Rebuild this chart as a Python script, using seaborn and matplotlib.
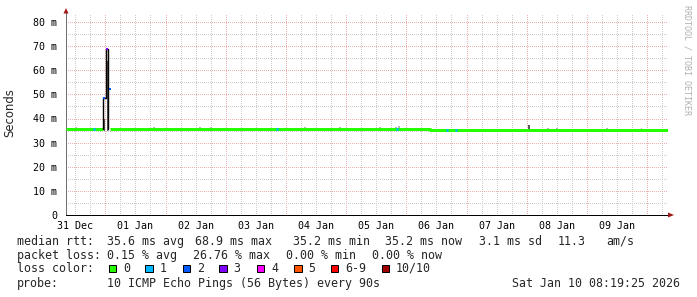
import matplotlib
matplotlib.use("Agg")
import matplotlib.pyplot as plt
import matplotlib.dates as mdates
from matplotlib.ticker import MultipleLocator, FuncFormatter, NullFormatter
from matplotlib.patches import Rectangle, Polygon
import seaborn as sns
import pandas as pd

# ---------------- data ----------------
t_start = "2025-12-31 08:19:25"
t_end = "2026-01-10 08:19:25"

# median rtt (ms), step segments of loss 0 (green)
med_a_time = ["2025-12-31 08:19", "2025-12-31 23:04"]
med_a_ms = [35.7, 35.7]
med_b_time = ["2026-01-01 01:50", "2026-01-06 09:30", "2026-01-10 08:19"]
med_b_ms = [35.7, 35.2, 35.2]

# short spots on median line with loss 1
loss1_time = ["2025-12-31 19:29", "2026-01-03 20:25", "2026-01-05 20:17",
              "2026-01-06 16:13", "2026-01-06 19:49"]
loss1_ms = [35.7, 35.7, 35.7, 35.2, 35.2]

# spike: median step (black) and loss-coloured medians
spike_step_time = ["2025-12-31 23:04", "2025-12-31 23:04", "2026-01-01 00:28", "2026-01-01 01:07"]
spike_step_ms = [35.7, 48.7, 68.9, 35.7]
spike_med_time = ["2025-12-31 23:40", "2026-01-01 00:52", "2026-01-01 01:40"]
spike_med_ms = [48.7, 68.9, 52.2]
spike_med_loss = [2, 3, 2]

# smoke (ping spread), top values in ms
smoke_time = ["2025-12-31 23:40", "2026-01-01 00:45", "2026-01-01 01:20",
              "2025-12-31 12:40", "2026-01-01 19:24", "2026-01-02 13:44", "2026-01-02 18:07",
              "2026-01-04 07:37", "2026-01-04 21:32", "2026-01-05 13:31", "2026-01-05 19:55",
              "2026-01-05 21:07", "2026-01-06 09:01", "2026-01-08 00:55", "2026-01-08 08:31",
              "2026-01-08 12:04", "2026-01-09 08:01", "2026-01-09 21:55"]
smoke_hi = [40.0, 64.0, 55.3,
            36.5, 36.5, 36.6, 36.5,
            36.6, 36.5, 36.6, 36.6,
            37.0, 36.2, 37.3, 36.1,
            36.1, 36.1, 36.1]
smoke_dark = [True, True, False,
              False, False, False, False,
              False, False, False, False,
              False, False, True, False,
              False, False, False]

loss_labels = ["0", "1", "2", "3", "4", "5", "6-9", "10/10"]
loss_colors = ["#26ff00", "#00b8ff", "#0059ff", "#7e00ff", "#ff00ff", "#ff5500", "#ff0000", "#a10000"]

y_ticks = [0, 10, 20, 30, 40, 50, 60, 70, 80]
y_labels = ["0", "10 m", "20 m", "30 m", "40 m", "50 m", "60 m", "70 m", "80 m"]

legend_rows = [
    [("median rtt:", 16.7), ("35.6 ms avg", 106.7), ("68.9 ms max", 195), ("35.2 ms min", 292.7),
     ("35.2 ms now", 385), ("3.1 ms sd", 479), ("11.3", 558), ("am/s", 606.7)],
    [("packet loss:", 16.7), ("0.15 % avg", 106.7), ("26.76 % max", 192.7),
     ("0.00 % min", 286), ("0.00 % now", 372)],
]
probe_text = "10 ICMP Echo Pings (56 Bytes) every 90s"
date_text = "Sat Jan 10 08:19:25 2026"

# ---------------- figure ----------------
W, H, DPI = 697, 297, 100
sns.set_style("white")
plt.rcParams["font.family"] = ["DejaVu Sans Mono"]
fig = plt.figure(figsize=(W / DPI, H / DPI), dpi=DPI)
fig.patch.set_facecolor("white")

L, R, B, T = 66, 668, 215, 13
ax = fig.add_axes([L / W, 1 - B / H, (R - L) / W, (B - T) / H])
ax.set_facecolor("white")

d = lambda s: mdates.date2num(pd.to_datetime(s))
dl = lambda lst: [d(s) for s in lst]
PX = 10.0 / (R - L)  # days per pixel
lw3 = 3 * 72 / DPI
lw1 = 72 / DPI

ax.set_xlim(d(t_start), d(t_end))
ax.set_ylim(0, (B - T) / (193 / 80))
ax.xaxis_date()

# grid
major_c = "#efb0b0"
minor_c = "#cccccc"
ax.xaxis.set_major_locator(mdates.DayLocator())
ax.xaxis.set_minor_locator(mdates.HourLocator(byhour=[6, 12, 18]))
ax.xaxis.set_major_formatter(NullFormatter())
ax.xaxis.set_minor_formatter(FuncFormatter(
    lambda v, p: mdates.num2date(v).strftime("%d %b") if mdates.num2date(v).hour == 12 else ""))
ax.yaxis.set_major_locator(MultipleLocator(10))
ax.yaxis.set_minor_locator(MultipleLocator(5))
ax.set_yticks(y_ticks)
ax.set_yticklabels(y_labels)
ax.grid(which="major", color=major_c, linestyle=(0, (1, 2)), linewidth=lw1, antialiased=False)
ax.grid(which="minor", color=minor_c, linestyle=(0, (1, 2)), linewidth=lw1, antialiased=False)
ax.set_axisbelow(True)

ax.tick_params(axis="x", which="major", length=3, direction="inout", color="#000000", width=lw1)
ax.tick_params(axis="x", which="minor", length=0, pad=4, labelsize=7.2, labelcolor="#000000")
ax.tick_params(axis="y", which="major", length=3, direction="inout", color="#555555",
               width=lw1, pad=5, labelsize=7.2, labelcolor="#000000")
ax.tick_params(axis="y", which="minor", length=2, direction="in", color="#999999", width=lw1)

for s in ["top", "right"]:
    ax.spines[s].set_visible(False)
ax.spines["left"].set_color("#707070")
ax.spines["left"].set_linewidth(lw1)
ax.spines["bottom"].set_color("#000000")
ax.spines["bottom"].set_linewidth(lw1)

# smoke
for t, hi, dark in zip(smoke_time, smoke_hi, smoke_dark):
    c = "#5a5a5a" if dark else "#b4b4b4"
    ax.bar(d(t), hi - 34.8, bottom=34.8, width=1.2 * PX, color=c, linewidth=0, zorder=2)

# median line (loss 0)
df_a = pd.DataFrame({"t": dl(med_a_time), "ms": med_a_ms})
df_b = pd.DataFrame({"t": dl(med_b_time), "ms": med_b_ms})
sns.lineplot(data=df_a, x="t", y="ms", ax=ax, color=loss_colors[0], linewidth=lw3,
             drawstyle="steps-post", solid_capstyle="butt", zorder=4)
sns.lineplot(data=df_b, x="t", y="ms", ax=ax, color=loss_colors[0], linewidth=lw3,
             drawstyle="steps-post", solid_capstyle="butt", zorder=4)

# loss-1 spots
for t, v in zip(loss1_time, loss1_ms):
    ax.hlines(v, d(t) - 0.8 * PX, d(t) + 0.8 * PX, color=loss_colors[1], linewidth=lw3, zorder=5)

# spike
ax.step(dl(spike_step_time), spike_step_ms, where="post", color="#000000", linewidth=lw1 * 1.4, zorder=5)
for t, v, lo in zip(spike_med_time, spike_med_ms, spike_med_loss):
    ax.hlines(v, d(t) - 1.0 * PX, d(t) + 1.0 * PX, color=loss_colors[lo], linewidth=2 * 72 / DPI, zorder=6)

ax.set_xlabel("")
ax.set_ylabel("")

# arrows
def fx(x): return x / W
def fy(y): return 1 - y / H
fig.patches.append(Polygon([[fx(63.5), fy(13.5)], [fx(68.5), fy(13.5)], [fx(66), fy(8)]],
                           closed=True, transform=fig.transFigure, facecolor="#a01818", edgecolor="none"))
fig.patches.append(Polygon([[fx(668), fy(212.5)], [fx(668), fy(217.5)], [fx(674), fy(215)]],
                           closed=True, transform=fig.transFigure, facecolor="#a01818", edgecolor="none"))

# texts
fig.text(fx(10), fy(113), "Seconds", rotation=90, ha="center", va="center",
         fontsize=8.4, family=["DejaVu Sans"])
fig.text(fx(687.5), fy(5), "RRDTOOL / TOBI OETIKER", rotation=270, ha="center", va="top",
         fontsize=6.0, color="#b0b0b0")

FS = 8.35
row_y = [241.3, 255.3]
for row, y in zip(legend_rows, row_y):
    for s, x in row:
        fig.text(fx(x), fy(y), s, ha="left", va="center", fontsize=FS)

fig.text(fx(16.7), fy(268), "loss color:", ha="left", va="center", fontsize=FS)
box_x = [108.7, 145.3, 182.7, 219.3, 256.7, 294.0, 330.7, 381.7]
for bx, lab, col in zip(box_x, loss_labels, loss_colors):
    fig.patches.append(Rectangle((fx(bx), fy(272)), 7.5 / W, 7.5 / H, transform=fig.transFigure,
                                 facecolor=col, edgecolor="#000000", linewidth=lw1))
    fig.text(fx(bx + 14.3), fy(268), lab, ha="left", va="center", fontsize=FS)

fig.text(fx(16.7), fy(283.3), "probe:", ha="left", va="center", fontsize=FS)
fig.text(fx(106.7), fy(283.3), probe_text, ha="left", va="center", fontsize=FS)
fig.text(fx(680.5), fy(283.3), date_text, ha="right", va="center", fontsize=FS)

fig.savefig("out.png", dpi=DPI, facecolor="white")
